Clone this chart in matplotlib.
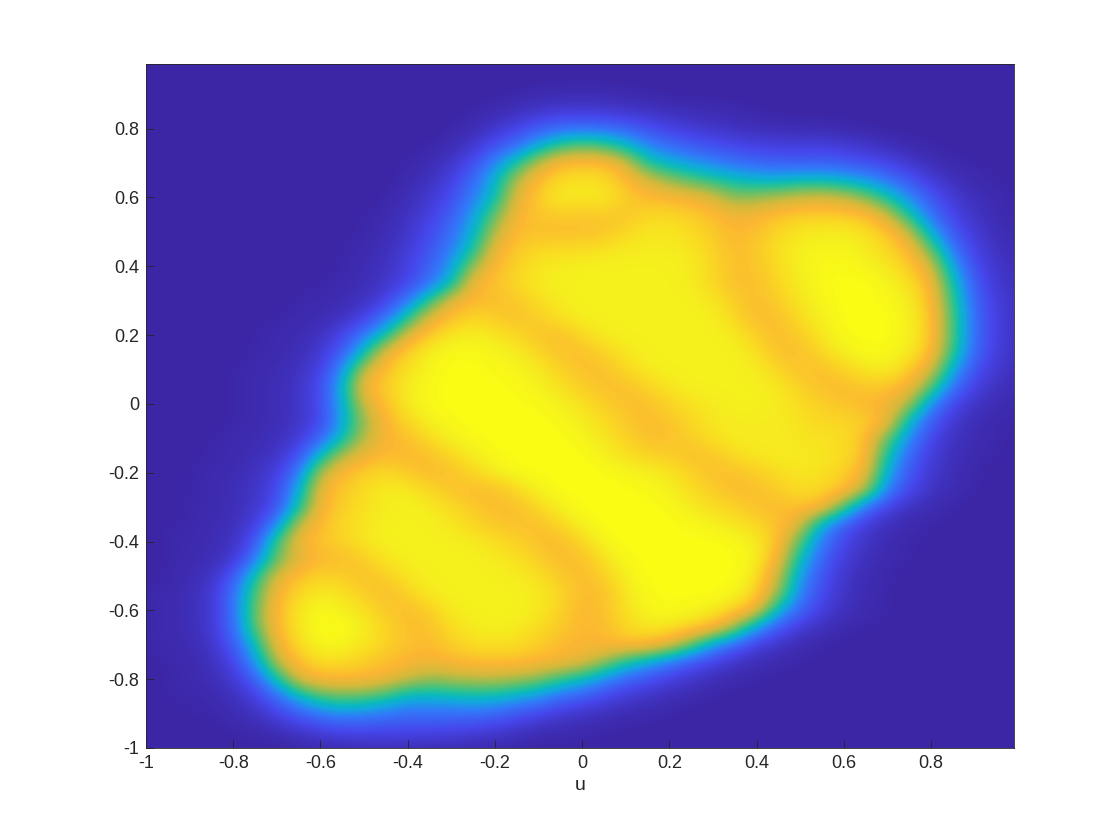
import numpy as np
import matplotlib
matplotlib.use("Agg")
import matplotlib.pyplot as plt
from matplotlib.colors import LinearSegmentedColormap

plt.rcParams['font.family'] = ['Liberation Sans', 'DejaVu Sans']

# Intensity (percent), on a 0.05 grid in u and v.
# Each row: first column index with a non-zero value, then its values; the rest of the row is 0.
N = 41
row_v = [round(1 - 0.05 * i, 2) for i in range(N)]
row_start = [0, 0, 17, 15, 14, 13, 12, 12, 11, 10,
             10, 9, 9, 8, 7, 6, 5, 5, 4, 4,
             4, 4, 3, 3, 2, 2, 2, 1, 1, 1,
             1, 0, 0, 0, 0, 1, 1, 1, 2, 4, 7]
row_values = [
    [],
    [],
    [1,2,3,3,3,2,1],
    [1,3,5,8,10,10,10,8,7,5,4,3,2,1],
    [1,3,8,14,22,27,28,27,24,18,13,10,8,6,4,4,3,3,2,1],
    [1,3,9,18,28,42,56,62,58,47,34,27,22,18,15,13,12,12,12,10,8,5,2,1],
    [1,3,8,17,34,52,74,87,88,88,78,52,44,38,33,28,25,23,22,23,21,18,14,9,4,2,1],
    [2,6,12,26,44,72,87,93,94,93,87,78,68,60,54,48,45,44,47,47,44,38,30,20,11,5,2,1],
    [1,4,9,17,32,47,80,90,96,96,96,90,86,85,83,78,66,68,72,76,78,74,66,50,35,20,10,5,2,1],
    [1,2,6,12,22,38,62,84,88,90,88,89,88,92,92,90,87,82,84,88,90,90,90,87,76,50,28,14,7,3,1],
    [1,3,8,16,27,43,72,87,87,86,87,88,92,95,95,93,89,85,87,92,95,96,96,94,89,75,42,20,10,4,2],
    [1,2,5,10,19,31,50,82,89,92,93,93,94,96,96,96,95,91,86,89,94,97,98,98,96,92,86,62,29,13,6,3],
    [1,3,6,13,23,38,68,86,91,95,96,97,97,97,97,97,96,92,87,88,93,97,99,99,98,95,90,78,40,17,8,4],
    [1,2,4,8,15,28,47,84,88,92,96,97,97,97,97,97,97,96,92,87,87,92,96,99,100,100,98,94,85,50,21,9,5],
    [1,2,3,6,13,30,55,80,86,86,89,93,96,97,97,97,97,97,97,95,90,86,90,95,98,100,100,99,96,88,55,24,11,6],
    [1,2,3,6,13,28,52,80,88,92,90,87,90,94,97,97,97,97,97,97,97,92,86,87,93,97,100,100,100,97,90,58,26,12,6],
    [1,2,3,6,14,30,50,80,90,95,97,95,92,88,87,92,96,97,97,97,97,97,96,90,86,90,95,99,100,100,97,90,58,26,12,6],
    [1,2,4,9,22,47,82,91,97,99,99,98,96,92,87,87,91,95,97,97,97,97,97,94,87,87,92,97,99,99,96,88,55,25,11,6],
    [1,2,3,6,13,35,74,88,94,98,100,100,99,98,96,91,87,87,92,96,97,97,97,97,96,92,87,87,91,95,96,91,78,42,18,9,4],
    [1,2,4,7,16,44,84,90,96,99,100,100,100,99,97,94,90,87,87,91,95,97,97,97,97,95,91,87,86,89,89,83,62,28,13,6,3],
    [1,2,4,7,16,42,76,88,96,99,100,100,100,100,99,97,94,90,87,87,91,94,96,97,97,96,93,90,88,85,82,72,35,15,7,3,2],
    [1,2,4,7,15,40,68,85,92,97,99,100,100,100,100,99,96,93,89,86,88,92,95,96,96,96,94,92,92,90,85,45,22,9,4,2,1],
    [1,2,3,5,10,24,48,72,84,87,93,97,99,100,100,100,100,98,95,91,87,87,90,94,96,96,96,95,94,93,88,62,34,15,6,3,1],
    [1,2,4,7,18,47,72,82,86,85,87,92,96,99,100,100,100,100,97,94,91,90,87,88,93,95,96,96,95,93,88,50,25,11,5,2,1],
    [1,2,3,6,12,30,72,86,90,93,89,86,87,92,96,99,100,100,100,100,98,97,95,91,87,87,90,93,95,94,91,82,42,20,9,4,1],
    [1,2,4,7,15,42,82,89,93,96,96,92,88,86,87,92,97,100,100,100,100,99,97,93,90,86,87,90,93,92,88,72,32,15,7,3,1],
    [1,2,4,8,18,50,84,90,94,96,97,96,93,89,86,87,92,97,100,100,100,100,99,96,93,91,87,86,88,86,60,28,13,6,3,1],
    [1,1,3,5,11,33,74,87,92,95,97,97,97,95,92,89,87,87,92,97,100,100,100,100,99,97,95,92,88,78,42,22,10,5,2,1],
    [1,2,3,6,18,58,83,88,91,95,97,97,97,97,96,93,91,87,86,92,98,100,100,100,100,100,99,96,88,60,30,15,7,3,1],
    [1,2,4,8,30,62,78,86,86,90,95,97,97,97,97,96,94,90,86,87,94,99,100,100,100,100,100,97,84,47,24,11,5,2,1],
    [1,3,6,20,50,78,88,91,90,87,90,95,97,97,97,97,96,94,89,86,90,97,100,100,100,100,100,95,75,38,19,8,3,1],
    [1,2,4,9,27,58,84,92,96,94,90,86,91,96,97,97,97,97,96,92,86,87,95,99,100,100,100,98,92,68,32,16,7,3,1],
    [1,2,4,9,27,62,86,95,99,97,94,89,86,90,96,97,97,97,96,91,85,87,94,98,99,98,96,92,82,44,24,12,5,2,1],
    [1,2,4,9,26,60,86,95,100,100,96,92,87,87,93,96,97,96,93,89,85,86,92,95,95,92,87,68,38,20,10,5,2,1],
    [1,2,3,7,20,47,82,93,98,98,95,91,87,86,90,93,94,93,90,86,84,85,87,87,80,62,38,24,12,7,3,1],
    [1,2,5,14,36,73,88,93,93,90,87,85,82,85,87,87,87,85,83,80,68,52,42,30,20,13,7,4,2,1],
    [1,2,4,9,22,49,78,85,85,85,82,74,68,70,72,72,70,65,55,47,35,24,18,12,8,4,2,1],
    [1,1,2,5,12,26,44,58,62,60,54,44,44,46,48,47,42,36,27,22,15,10,7,4,2,1],
    [1,1,3,6,13,22,30,35,33,30,27,27,27,27,25,20,15,10,7,5,3,2,1],
    [1,2,4,8,12,15,15,15,15,15,14,12,10,7,4,3,2,1],
    [1,2,3,4,4,4,3,3,2,2,1],
]
u_ticks = [-1, -0.8, -0.6, -0.4, -0.2, 0, 0.2, 0.4, 0.6, 0.8]
v_ticks = [-1, -0.8, -0.6, -0.4, -0.2, 0, 0.2, 0.4, 0.6, 0.8]
x_label = "u"

grid = np.zeros((N, N))
for i, (start, vals) in enumerate(zip(row_start, row_values)):
    grid[i, start:start + len(vals)] = vals

cmap = LinearSegmentedColormap.from_list("parula_like", [
    (0.00, (60/255, 38/255, 165/255)),
    (0.15, (70/255, 70/255, 235/255)),
    (0.30, (50/255, 120/255, 250/255)),
    (0.40, (20/255, 165/255, 225/255)),
    (0.47, (10/255, 185/255, 190/255)),
    (0.55, (50/255, 195/255, 140/255)),
    (0.65, (130/255, 190/255, 90/255)),
    (0.75, (210/255, 185/255, 60/255)),
    (0.85, (252/255, 182/255, 50/255)),
    (0.92, (250/255, 215/255, 35/255)),
    (0.97, (245/255, 240/255, 30/255)),
    (1.00, (250/255, 252/255, 20/255)),
])

fig = plt.figure(figsize=(11.2, 8.4), dpi=100)
ax = fig.add_axes([146/1120, (840-748)/840, 868/1120, 684/840])
ax.imshow(grid, cmap=cmap, vmin=0, vmax=100, origin='upper', aspect='auto',
          interpolation='bicubic', extent=[-1.025, 1.025, -1.025, 1.025])
ax.set_xlim(-1, 0.99)
ax.set_ylim(-1, 0.988)

ax.set_xticks(u_ticks)
ax.set_xticklabels([f"{t:g}" for t in u_ticks])
ax.set_yticks(v_ticks)
ax.set_yticklabels([f"{t:g}" for t in v_ticks])
ax.tick_params(direction='in', length=6, width=0.6, color='#262626',
               labelcolor='#262626', labelsize=13, pad=5)
ax.set_xlabel(x_label, fontsize=14, color='#262626', labelpad=4)
for s in ax.spines.values():
    s.set_linewidth(0.6)
    s.set_color('#262626')

fig.savefig("out.png", dpi=100)
